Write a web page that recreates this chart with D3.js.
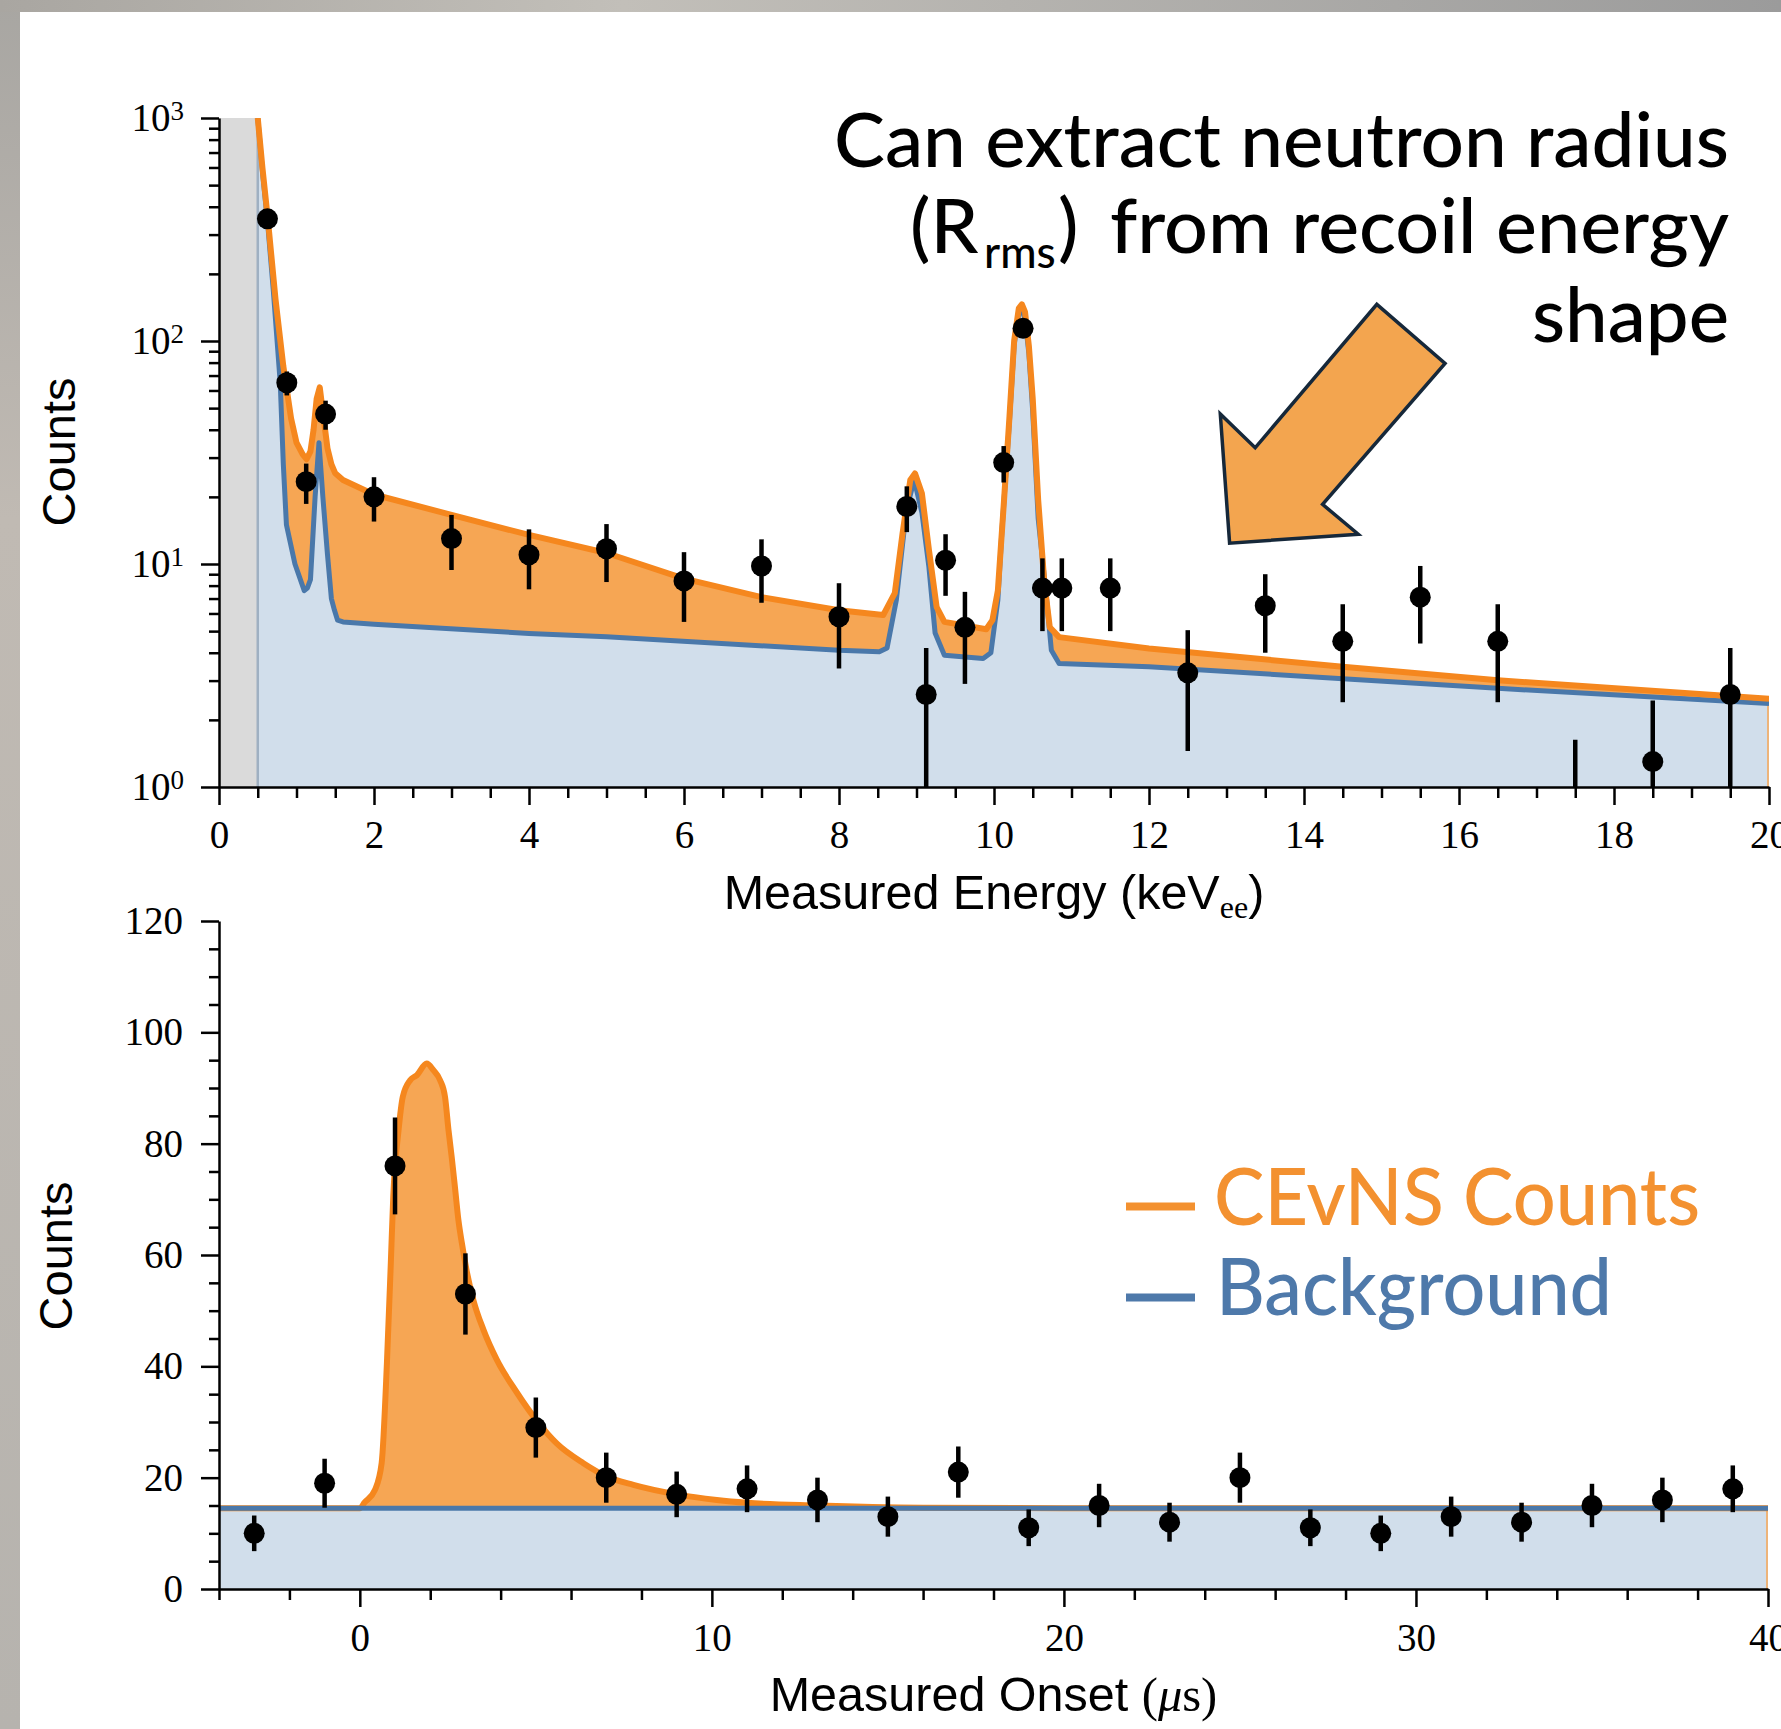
<!DOCTYPE html>
<html><head><meta charset="utf-8">
<script src="https://cdn.jsdelivr.net/npm/d3@7"></script>
<style>body{margin:0;background:#fff;} svg{display:block;}</style>
</head><body>
<svg id="chart" width="1781" height="1729"></svg>
<script>
// ---------------- DATA: top panel (measured energy) ----------------
const energyBinCenters = [0.625,0.875,1.125,1.375,2,3,4,5,6,7,8,8.875,9.125,9.375,9.625,10.125,10.375,10.625,10.875,11.5,12.5,13.5,14.5,15.5,16.5,17.5,18.5,19.5];
const energyCounts     = [353,65,23.4,47,20,13,11,11.7,8.4,9.8,5.8,18.1,2.6,10.4,5.2,28.5,114,7.8,7.8,7.8,3.25,6.5,4.5,7.1,4.5,0.7,1.3,2.6];
const energyErrors     = [19,8,4.8,7,4.5,3.6,3.3,3.4,2.9,3.1,2.4,4.2,1.6,3.2,2.3,5.3,10.7,2.8,2.8,2.8,1.8,2.5,2.1,2.7,2.1,0.93,1.14,1.6];

const energyTotalX = [0.50,0.56,0.63,0.73,0.83,0.93,1.00,1.08,1.13,1.18,1.22,1.26,1.30,1.34,1.40,1.45,1.50,1.60,2.0,3.0,4.0,5.0,6.0,7.0,8.0,8.57,8.72,8.82,8.92,8.98,9.07,9.16,9.26,9.36,9.90,9.98,10.05,10.13,10.20,10.26,10.32,10.36,10.40,10.45,10.50,10.57,10.65,10.72,10.84,12.0,14.5,16.5,20.0];
const energyTotalY = [1000,600,353,153,77,45,35,31,29.5,32,40,55,62,48,33,28,25.5,23.8,20.5,16.6,13.5,11.2,8.6,7.1,6.2,5.9,7.4,13.7,23.8,25.5,20.7,11.6,6.4,5.5,5.1,5.6,7.6,19.4,46,100,140,146,135,95,55,19.4,8.2,5.2,4.7,4.18,3.46,3.01,2.49];

const energyBgX = [0.50,0.56,0.63,0.70,0.79,0.83,0.87,0.98,1.10,1.14,1.18,1.24,1.29,1.34,1.40,1.45,1.49,1.53,1.60,2.0,4.0,5.0,8.0,8.52,8.62,8.74,8.87,8.97,9.07,9.16,9.24,9.36,9.86,9.96,10.05,10.10,10.20,10.26,10.32,10.36,10.40,10.45,10.50,10.57,10.68,10.74,10.84,12.0,14.5,16.5,20.0];
const energyBgY = [1000,580,330,170,65,28,15,10,7.6,7.8,8.5,20,35,20,11,7,6.2,5.6,5.5,5.37,4.88,4.72,4.1,4.04,4.2,6.9,17.5,23.8,17,9.7,4.9,3.9,3.77,4.0,6.9,13.7,44,96,133,138,126,88,48,16,6.9,4.1,3.58,3.46,3.06,2.77,2.37];

const energyThreshold = 0.5;
const energyXTicks = [0,2,4,6,8,10,12,14,16,18,20];
const energyYTicks = [1,10,100,1000];

// ---------------- DATA: bottom panel (measured onset) ----------------
const onsetBinCenters = [-3,-1,1,3,5,7,9,11,13,15,17,19,21,23,25,27,29,31,33,35,37,39];
const onsetCounts     = [10,19,76,53,29,20,17,18,16,13,21,11,15,12,20,11,10,13,12,15,16,18];
const onsetErrors     = [3.2,4.4,8.7,7.3,5.4,4.5,4.1,4.2,4.0,3.6,4.6,3.3,3.9,3.5,4.5,3.3,3.2,3.6,3.5,3.9,4.0,4.2];

const onsetTotalX = [-4,0.0,0.13,0.43,0.62,0.77,0.88,0.95,1.10,1.22,1.43,1.62,1.90,2.09,2.28,2.42,2.52,2.61,2.71,2.80,2.90,3.04,3.23,3.51,3.89,4.46,5.03,5.60,6.35,7.02,7.77,9.0,10.14,11.0,13,16,20,40];
const onsetTotalY = [14.5,14.5,15.5,17.8,22.6,40.6,58.5,70.5,82.4,88.4,91.4,92.3,94.4,93.2,91.4,88.4,82.4,77.6,71.7,66.3,62.1,57.0,51.8,46.6,41.2,35.3,30.2,26.1,22.6,20.2,18.7,17.0,16.0,15.5,15.0,14.6,14.5,14.5];
const onsetBgX = [-4,40];
const onsetBgY = [14.5,14.5];

const onsetXTicks = [0,10,20,30,40];
const onsetYTicks = [0,20,40,60,80,100,120];

// annotation arrow, expressed in top-panel data coordinates (energy, counts)
const arrowE = [14.94,15.82,14.24,14.70,13.04,12.92,13.37];
const arrowC = [146,79.4,18.5,13.6,12.4,47.1,33.2];

// ---------------- STYLE ----------------
const C = {
  orangeLine:"#f5871e", orangeFill:"#f6a654", blueLine:"#4a78aa", blueFill:"#d1deeb",
  gray:"#dadada", legendOrange:"#f39130", legendBlue:"#4e79aa"
};
const serif = "'Liberation Serif','DejaVu Serif',serif";
const sans  = "'Liberation Sans',Arial,sans-serif";
const futura = "Lato,'Open Sans',sans-serif";

const svg = d3.select("#chart");

// ---------------- FRAME ----------------
const defs = svg.append("defs");
const gTop = defs.append("linearGradient").attr("id","topband").attr("x1","0").attr("x2","1");
gTop.append("stop").attr("offset","0").attr("stop-color","#a9a6a1");
gTop.append("stop").attr("offset","0.35").attr("stop-color","#c2bfb9");
gTop.append("stop").attr("offset","1").attr("stop-color","#9b9b9b");
const gLeft = defs.append("linearGradient").attr("id","leftband").attr("x1","0").attr("x2","0").attr("y1","0").attr("y2","1");
gLeft.append("stop").attr("offset","0").attr("stop-color","#a8a6a2");
gLeft.append("stop").attr("offset","0.3").attr("stop-color","#c0bab3");
gLeft.append("stop").attr("offset","1").attr("stop-color","#b6b3ae");

svg.append("rect").attr("width",1781).attr("height",1729).attr("fill","#fff");
svg.append("rect").attr("x",0).attr("y",0).attr("width",20).attr("height",1729).attr("fill","url(#leftband)");
svg.append("rect").attr("x",0).attr("y",0).attr("width",1781).attr("height",12).attr("fill","url(#topband)");

// ---------------- SCALES ----------------
const xTop = d3.scaleLinear().domain([0,20]).range([219,1769]);
const yTop = d3.scaleLog().domain([1,1000]).range([787,118]);
const xBot = d3.scaleLinear().domain([-4,40]).range([219,1768]);
const yBot = d3.scaleLinear().domain([0,120]).range([1589,921]);

defs.append("clipPath").attr("id","clipTop").append("rect")
  .attr("x",xTop.range()[0]).attr("y",yTop.range()[1])
  .attr("width",xTop.range()[1]-xTop.range()[0]).attr("height",yTop.range()[0]-yTop.range()[1]);
defs.append("clipPath").attr("id","clipBot").append("rect")
  .attr("x",xBot.range()[0]).attr("y",yBot.range()[1])
  .attr("width",xBot.range()[1]-xBot.range()[0]).attr("height",yBot.range()[0]-yBot.range()[1]);

function zip(xs,ys){ return xs.map((x,i)=>[x,ys[i]]); }

// ---------------- TOP PANEL ----------------
const topG = svg.append("g").attr("clip-path","url(#clipTop)");
topG.append("rect").attr("x",xTop(0)).attr("y",yTop(1000))
  .attr("width",xTop(energyThreshold)-xTop(0)).attr("height",yTop(1)-yTop(1000)).attr("fill",C.gray);

const areaTop = d3.area().x(d=>xTop(d[0])).y0(yTop(1)).y1(d=>yTop(d[1]));
const lineTop = d3.line().x(d=>xTop(d[0])).y(d=>yTop(d[1]));
const totTop = zip(energyTotalX,energyTotalY), bgTop = zip(energyBgX,energyBgY);
topG.append("path").attr("d",areaTop(totTop)).attr("fill",C.orangeFill);
topG.append("path").attr("d",areaTop(bgTop)).attr("fill",C.blueFill);
topG.append("line").attr("x1",xTop(energyThreshold)).attr("x2",xTop(energyThreshold))
  .attr("y1",yTop(1)).attr("y2",yTop(1000)).attr("stroke","#9fb0c2").attr("stroke-width",2.5);
topG.append("line").attr("x1",xTop(20)-1).attr("x2",xTop(20)-1)
  .attr("y1",yTop(1)).attr("y2",yTop(energyTotalY[energyTotalY.length-1])).attr("stroke",C.orangeFill).attr("stroke-width",1.5);
topG.append("path").attr("d",lineTop(bgTop)).attr("fill","none").attr("stroke",C.blueLine).attr("stroke-width",5).attr("stroke-linejoin","round");
topG.append("path").attr("d",lineTop(totTop)).attr("fill","none").attr("stroke",C.orangeLine).attr("stroke-width",6).attr("stroke-linejoin","round");

const ptsTop = energyBinCenters.map((x,i)=>({x, v:energyCounts[i], e:energyErrors[i]}));
topG.selectAll("line.err").data(ptsTop).join("line").attr("class","err")
  .attr("x1",d=>xTop(d.x)).attr("x2",d=>xTop(d.x))
  .attr("y1",d=>yTop(Math.max(d.v-d.e,0.3))).attr("y2",d=>yTop(d.v+d.e))
  .attr("stroke","#000").attr("stroke-width",4.5);
topG.selectAll("circle.pt").data(ptsTop).join("circle").attr("class","pt")
  .attr("cx",d=>xTop(d.x)).attr("cy",d=>yTop(d.v)).attr("r",10.5).attr("fill","#000");

function styleAxis(g){
  g.selectAll("path.domain").attr("stroke","#000").attr("stroke-width",2.5);
  g.selectAll(".tick line").attr("stroke","#000").attr("stroke-width",2.5);
  g.selectAll("text").attr("font-family",serif).attr("font-size",39).attr("fill","#000");
}
const minorTopX = d3.range(0,20.001,0.5).filter(v=>Math.abs(v/2-Math.round(v/2))>1e-6);
svg.append("g").attr("transform",`translate(0,${yTop(1)})`)
  .call(d3.axisBottom(xTop).tickValues(minorTopX).tickSize(11).tickFormat(""))
  .call(g=>{g.select(".domain").remove(); styleAxis(g);});
svg.append("g").attr("transform",`translate(0,${yTop(1)})`)
  .call(d3.axisBottom(xTop).tickValues(energyXTicks).tickSize(18).tickSizeOuter(0).tickPadding(15).tickFormat(d3.format("d")))
  .call(styleAxis);

const minorTopY = [];
[1,10,100].forEach(b=>{ for(let k=2;k<=9;k++) minorTopY.push(b*k); });
svg.append("g").attr("transform",`translate(${xTop(0)},0)`)
  .call(d3.axisLeft(yTop).tickValues(minorTopY).tickSize(10).tickFormat(""))
  .call(g=>{g.select(".domain").remove(); styleAxis(g);});
svg.append("g").attr("transform",`translate(${xTop(0)},0)`)
  .call(d3.axisLeft(yTop).tickValues(energyYTicks).tickSize(18).tickSizeOuter(0).tickPadding(17))
  .call(styleAxis)
  .call(g=>g.selectAll(".tick text").each(function(d){
      const t=d3.select(this); t.text(null);
      t.append("tspan").text("10");
      t.append("tspan").attr("dy","-0.42em").attr("font-size",27).text(Math.round(Math.log10(d)));
  }));

// ---------------- BOTTOM PANEL ----------------
const botG = svg.append("g").attr("clip-path","url(#clipBot)");
const areaBot = d3.area().x(d=>xBot(d[0])).y0(yBot(0)).y1(d=>yBot(d[1])).curve(d3.curveMonotoneX);
const lineBot = d3.line().x(d=>xBot(d[0])).y(d=>yBot(d[1])).curve(d3.curveMonotoneX);
const totBot = zip(onsetTotalX,onsetTotalY), bgBot = zip(onsetBgX,onsetBgY);
botG.append("path").attr("d",areaBot(totBot)).attr("fill",C.orangeFill);
botG.append("path").attr("d",areaBot(bgBot)).attr("fill",C.blueFill);
botG.append("line").attr("x1",xBot(40)-1).attr("x2",xBot(40)-1)
  .attr("y1",yBot(0)).attr("y2",yBot(onsetBgY[1])).attr("stroke",C.orangeFill).attr("stroke-width",1.5);
botG.append("path").attr("d",lineBot(totBot)).attr("fill","none").attr("stroke",C.orangeLine).attr("stroke-width",6);
botG.append("path").attr("d",lineBot(bgBot)).attr("fill","none").attr("stroke",C.blueLine).attr("stroke-width",5);

const ptsBot = onsetBinCenters.map((x,i)=>({x, v:onsetCounts[i], e:onsetErrors[i]}));
botG.selectAll("line.err").data(ptsBot).join("line").attr("class","err")
  .attr("x1",d=>xBot(d.x)).attr("x2",d=>xBot(d.x))
  .attr("y1",d=>yBot(d.v-d.e)).attr("y2",d=>yBot(d.v+d.e))
  .attr("stroke","#000").attr("stroke-width",4.5);
botG.selectAll("circle.pt").data(ptsBot).join("circle").attr("class","pt")
  .attr("cx",d=>xBot(d.x)).attr("cy",d=>yBot(d.v)).attr("r",10.5).attr("fill","#000");

const minorBotX = d3.range(-4,40.001,2).filter(v=>v%10!==0);
svg.append("g").attr("transform",`translate(0,${yBot(0)})`)
  .call(d3.axisBottom(xBot).tickValues(minorBotX).tickSize(11).tickFormat(""))
  .call(g=>{g.select(".domain").remove(); styleAxis(g);});
svg.append("g").attr("transform",`translate(0,${yBot(0)})`)
  .call(d3.axisBottom(xBot).tickValues(onsetXTicks).tickSize(18).tickSizeOuter(0).tickPadding(16).tickFormat(d3.format("d")))
  .call(styleAxis);
const minorBotY = d3.range(0,120.001,5).filter(v=>v%20!==0);
svg.append("g").attr("transform",`translate(${xBot(-4)},0)`)
  .call(d3.axisLeft(yBot).tickValues(minorBotY).tickSize(10).tickFormat(""))
  .call(g=>{g.select(".domain").remove(); styleAxis(g);});
svg.append("g").attr("transform",`translate(${xBot(-4)},0)`)
  .call(d3.axisLeft(yBot).tickValues(onsetYTicks).tickSize(18).tickSizeOuter(0).tickPadding(18).tickFormat(d3.format("d")))
  .call(styleAxis);

// ---------------- AXIS TITLES ----------------
svg.append("text").attr("transform","translate(75,452) rotate(-90)").attr("text-anchor","middle")
  .attr("font-family",sans).attr("font-size",47).attr("fill","#000").text("Counts");
svg.append("text").attr("transform","translate(72,1256) rotate(-90)").attr("text-anchor","middle")
  .attr("font-family",sans).attr("font-size",47).attr("fill","#000").text("Counts");

const tE = svg.append("text").attr("x",(xTop.range()[0]+xTop.range()[1])/2).attr("y",909).attr("text-anchor","middle")
  .attr("font-family",sans).attr("font-size",48.5).attr("fill","#000");
tE.append("tspan").text("Measured Energy (keV");
tE.append("tspan").attr("font-family",serif).attr("font-size",32).attr("dy",9).text("ee");
tE.append("tspan").attr("dy",-9).text(")");

const tO = svg.append("text").attr("x",(xBot.range()[0]+xBot.range()[1])/2).attr("y",1711).attr("text-anchor","middle")
  .attr("font-family",sans).attr("font-size",48.5).attr("fill","#000");
tO.append("tspan").text("Measured Onset ");
tO.append("tspan").attr("font-family",serif).text("(");
tO.append("tspan").attr("font-family",serif).attr("font-style","italic").text("μ");
tO.append("tspan").attr("font-family",serif).text("s)");

// ---------------- LEGEND ----------------
svg.append("line").attr("x1",1126).attr("x2",1195).attr("y1",1206.5).attr("y2",1206.5).attr("stroke",C.legendOrange).attr("stroke-width",8);
svg.append("line").attr("x1",1126).attr("x2",1195).attr("y1",1297.5).attr("y2",1297.5).attr("stroke",C.legendBlue).attr("stroke-width",8);
svg.append("text").attr("x",1214).attr("y",1225).attr("font-family",futura).attr("font-size",79).attr("font-weight",500)
  .attr("fill",C.legendOrange).attr("textLength",486).attr("lengthAdjust","spacingAndGlyphs").text("CEvNS Counts");
svg.append("text").attr("x",1216).attr("y",1315).attr("font-family",futura).attr("font-size",79).attr("font-weight",500)
  .attr("fill",C.legendBlue).attr("textLength",396).attr("lengthAdjust","spacingAndGlyphs").text("Background");

// ---------------- ANNOTATION ----------------
const ann = svg.append("g").attr("font-family",futura).attr("font-weight",500).attr("fill","#000");
ann.append("text").attr("x",834).attr("y",167).attr("font-size",76).attr("textLength",895).attr("lengthAdjust","spacingAndGlyphs").text("Can extract neutron radius");
const l2 = ann.append("text").attr("x",910).attr("y",253).attr("font-size",76);
l2.append("tspan").text("(R");
l2.append("tspan").attr("x",984).attr("dy",15).attr("font-size",44).text("rms");
l2.append("tspan").attr("x",1058).attr("dy",-15).text(")");
ann.append("text").attr("x",1110).attr("y",253).attr("font-size",76).attr("textLength",619).attr("lengthAdjust","spacingAndGlyphs").text("from recoil energy");
ann.append("text").attr("x",1532).attr("y",342).attr("font-size",76).attr("textLength",197).attr("lengthAdjust","spacingAndGlyphs").text("shape");

const arrowPts = arrowE.map((e,i)=>[xTop(e),yTop(arrowC[i])]);
svg.append("path").attr("d",d3.line()(arrowPts)+"Z").attr("fill","#f3a54f").attr("stroke","#16283a").attr("stroke-width",3.5).attr("stroke-linejoin","miter");
</script>
</body></html>
